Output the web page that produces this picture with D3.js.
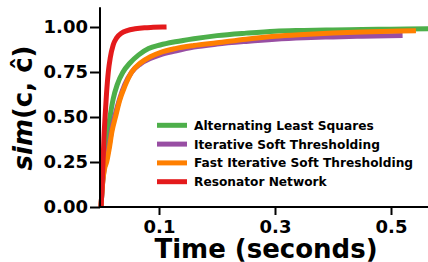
<!DOCTYPE html>
<html>
<head>
<meta charset="utf-8">
<script src="https://cdn.jsdelivr.net/npm/d3@7"></script>
<style>
  body { margin: 0; background: #fff; }
  svg text { font-family: "DejaVu Sans", sans-serif; font-weight: bold; fill: #000; }
</style>
</head>
<body>
<div id="holder"></div>
<script>
// values (time in seconds, similarity)
var alsTime = [0, 0.003, 0.007, 0.011, 0.0155, 0.021, 0.028, 0.038, 0.05, 0.065, 0.082, 0.102, 0.128, 0.16, 0.2, 0.25, 0.3, 0.35, 0.4, 0.45, 0.5, 0.57];
var alsSim  = [0, 0.15, 0.28, 0.4, 0.5, 0.6, 0.68, 0.75, 0.8, 0.845, 0.88, 0.9, 0.918, 0.935, 0.952, 0.966, 0.977, 0.981, 0.984, 0.986, 0.988, 0.99];

var istaTime = [0, 0.003, 0.006, 0.0098, 0.014, 0.019, 0.025, 0.032, 0.041, 0.053, 0.068, 0.085, 0.102, 0.128, 0.16, 0.2, 0.25, 0.3, 0.35, 0.4, 0.45, 0.52];
var istaSim  = [0, 0.14, 0.22, 0.27, 0.34, 0.44, 0.52, 0.6, 0.68, 0.75, 0.795, 0.825, 0.845, 0.866, 0.888, 0.905, 0.92, 0.932, 0.94, 0.945, 0.949, 0.953];

var fistaTime = [0, 0.003, 0.006, 0.0098, 0.014, 0.019, 0.025, 0.032, 0.041, 0.053, 0.068, 0.085, 0.102, 0.128, 0.16, 0.2, 0.25, 0.3, 0.35, 0.4, 0.45, 0.5, 0.543];
var fistaSim  = [0, 0.14, 0.21, 0.25, 0.32, 0.42, 0.5, 0.59, 0.67, 0.75, 0.8, 0.835, 0.858, 0.88, 0.897, 0.912, 0.932, 0.948, 0.958, 0.966, 0.972, 0.976, 0.979];

var resTime = [0, 0.002, 0.0035, 0.005, 0.007, 0.0095, 0.0126, 0.016, 0.021, 0.027, 0.035, 0.045, 0.059, 0.075, 0.09, 0.113];
var resSim  = [0, 0.12, 0.25, 0.38, 0.5, 0.63, 0.75, 0.83, 0.9, 0.94, 0.965, 0.98, 0.99, 0.996, 0.998, 1.0];

var seriesNames = ["Alternating Least Squares", "Iterative Soft Thresholding", "Fast Iterative Soft Thresholding", "Resonator Network"];
var seriesColors = ["#4daf4a", "#984ea3", "#ff7f00", "#e41a1c"];

var xTicks = [0.1, 0.3, 0.5];
var yTicks = [0, 0.25, 0.5, 0.75, 1.0];

var series = [
  {name: seriesNames[0], color: seriesColors[0], t: alsTime, v: alsSim},
  {name: seriesNames[1], color: seriesColors[1], t: istaTime, v: istaSim},
  {name: seriesNames[2], color: seriesColors[2], t: fistaTime, v: fistaSim},
  {name: seriesNames[3], color: seriesColors[3], t: resTime, v: resSim}
];

var fullWidth = 428;
var fullHeight = 262;

var svg = d3.select('#holder').append('svg')
  .attr('width', fullWidth)
  .attr('height', fullHeight);

var xScale = d3.scaleLinear()
  .domain([0, 0.57])
  .range([101, 101 + 0.57 * 580]);

var yScale = d3.scaleLinear()
  .domain([0, 1.11])
  .range([207, 207 - 1.11 * 180]);

var line = d3.line()
  .x(function(d) { return xScale(d[0]); })
  .y(function(d) { return yScale(d[1]); })
  .curve(d3.curveMonotoneX);

// curves
series.forEach(function(s) {
  svg.append('path')
    .datum(d3.zip(s.t, s.v))
    .attr('d', line)
    .attr('fill', 'none')
    .attr('stroke', s.color)
    .attr('stroke-width', 5)
    .attr('stroke-linejoin', 'round');
});

// axes
var xAxis = d3.axisBottom(xScale)
  .tickValues(xTicks)
  .tickFormat(d3.format('.1f'))
  .tickSize(8)
  .tickPadding(5);

var yAxis = d3.axisLeft(yScale)
  .tickValues(yTicks)
  .tickFormat(d3.format('.2f'))
  .tickSize(10)
  .tickPadding(2);

var gx = svg.append('g')
  .attr('transform', 'translate(0,207)')
  .call(xAxis);

var gy = svg.append('g')
  .attr('transform', 'translate(100,0)')
  .call(yAxis);

[gx, gy].forEach(function(g) {
  g.select('.domain').attr('stroke', '#000').attr('stroke-width', 2);
  g.selectAll('.tick line').attr('stroke', '#000').attr('stroke-width', 2);
  g.selectAll('.tick text')
    .style('font-family', '"DejaVu Sans", sans-serif')
    .style('font-weight', 'bold')
    .style('font-size', '18px')
    .attr('fill', '#000');
});
// no outer ticks on spines
gx.select('.domain').attr('d', 'M' + xScale(-0.002) + ',0H' + fullWidth);
gy.select('.domain').attr('d', 'M0,' + yScale(0) + 'V' + yScale(1.11));

// axis labels
svg.append('text')
  .attr('x', 266)
  .attr('y', 258)
  .attr('text-anchor', 'middle')
  .style('font-size', '26px')
  .text('Time (seconds)');

var ylab = svg.append('text')
  .attr('transform', 'translate(32,108) rotate(-90)')
  .attr('text-anchor', 'middle')
  .style('font-size', '26px');
ylab.append('tspan').style('font-style', 'italic').text('sim');
ylab.append('tspan').text('(c, ĉ)');

// legend
var legend = svg.append('g');
series.forEach(function(s, i) {
  var yy = 125.3 + i * 18.8;
  legend.append('line')
    .attr('x1', 157).attr('x2', 187)
    .attr('y1', yy).attr('y2', yy)
    .attr('stroke', s.color)
    .attr('stroke-width', 5);
  legend.append('text')
    .attr('x', 194)
    .attr('y', yy + 4.4)
    .style('font-size', '12.2px')
    .text(s.name);
});
</script>
</body>
</html>
